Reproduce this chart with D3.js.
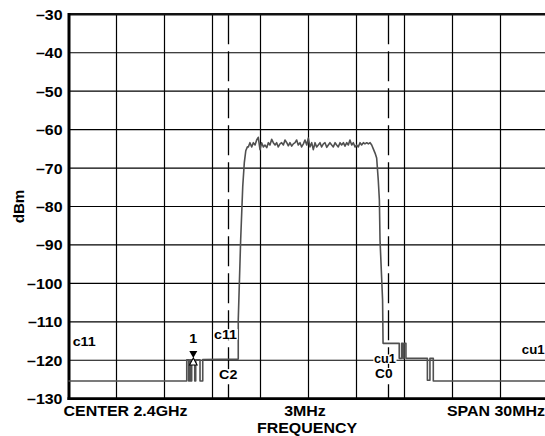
<!DOCTYPE html>
<html><head><meta charset="utf-8">
<script src="https://cdn.jsdelivr.net/npm/d3@7"></script>
<style>html,body{margin:0;padding:0;background:#fff;} svg{display:block;}</style>
</head><body><svg id="c" width="545" height="436"></svg>
<script>
// ---- data ----
const yTicks = [-30, -40, -50, -60, -70, -80, -90, -100, -110, -120, -130];
const yTickLabels = ["–30", "–40", "–50", "–60", "–70", "–80", "–90", "–100", "–110", "–120", "–130"];
const xGridMHz = [-12, -9, -6, -3, 0, 3, 6, 9, 12];
const channelEdgesMHz = [-5, 5];
const traceFreq = [
  -15, -7.61, -7.61, -7.49, -7.49, -7.42, -7.42, -7.36, -7.36, -7.30, -7.30, -7.11, -7.11, -7.05, -7.05,
  -6.78, -6.78, -6.61, -6.61, -4.39, -4.39, -4.24, -4.11, -4.01, -3.92, -3.82,
  -3.76, -3.66, -3.55, -3.45, -3.34, -3.24, -3.14, -3.03, -2.93, -2.82, -2.72, -2.61, -2.51, -2.41,
  -2.30, -2.20, -2.09, -1.99, -1.89, -1.78, -1.68, -1.57, -1.47, -1.36, -1.26, -1.16, -1.05, -0.95,
  -0.84, -0.74, -0.64, -0.53, -0.43, -0.32, -0.22, -0.11, -0.01, 0.09, 0.20, 0.30, 0.41, 0.51, 0.61,
  0.72, 0.82, 0.93, 1.03, 1.14, 1.24, 1.34, 1.45, 1.55, 1.66, 1.76, 1.86, 1.97, 2.07, 2.18, 2.28,
  2.39, 2.49, 2.59, 2.70, 2.80, 2.91, 3.01, 3.11, 3.22, 3.32, 3.43, 3.53, 3.64, 3.74, 3.85, 3.95,
  4.05, 4.16, 4.26, 4.36, 4.43, 4.47, 4.63, 4.66,
  5.67, 5.67, 5.82, 5.82, 5.90, 5.90, 5.97, 5.97, 6.09, 6.09, 7.43, 7.43, 7.59, 7.59, 7.80, 7.80, 15
];
const traceLevel = [
  -125.4, -125.4, -119.9, -119.9, -125.4, -125.4, -119.9, -119.9, -125.4, -125.4, -119.9, -119.9, -125.4, -125.4, -119.9,
  -119.9, -125.4, -125.4, -119.8, -119.7, -109.5, -88.7, -74.8, -68.5, -65.5, -64.5,
  -64.5, -63.4, -64.5, -63.4, -64.0, -62.7, -62.0, -65.2, -63.4, -64.5, -64.0, -64.7, -63.4, -64.0,
  -62.5, -63.4, -64.0, -63.4, -64.5, -63.7, -63.4, -64.0, -62.7, -63.4, -64.2, -63.4, -64.3, -63.7,
  -63.4, -62.7, -64.0, -63.4, -64.5, -63.7, -62.7, -64.0, -62.2, -64.5, -63.4, -65.2, -63.4, -64.5, -64.0,
  -63.4, -64.5, -63.7, -63.4, -64.6, -64.0, -63.4, -64.0, -64.5, -63.4, -64.0, -64.5, -63.4, -64.0, -63.4, -64.3,
  -63.4, -64.0, -62.7, -64.0, -63.4, -64.5, -64.0, -64.5, -63.4, -64.0, -63.4, -63.7, -63.4, -63.7, -63.4, -64.0,
  -65.0, -66.1, -67.4, -73.1, -78.3, -88.7, -104.3, -115.6,
  -115.6, -119.5, -119.5, -115.6, -115.6, -119.5, -119.5, -115.6, -115.6, -119.5, -119.5, -125.2, -125.2, -119.5, -119.5, -125.4, -125.4
];
const markerFreq = -7.2, markerLevel = -119.4;
const annotations = [
  { text: "c11", f: -14.74, d: -116.3, size: 13.5, bg: false },
  { text: "1",   f: -7.2,   d: -115.5, size: 13.5, bg: false, anchor: "middle" },
  { text: "c11", f: -5.91,  d: -114.5, size: 13.5, bg: true },
  { text: "C2",  f: -5.59,  d: -124.9, size: 13.5, bg: true },
  { text: "cu1", f: 4.09,   d: -120.8, size: 12,   bg: true },
  { text: "C0",  f: 4.16,   d: -124.5, size: 13,   bg: true },
  { text: "cu1", f: 13.33,  d: -118.4, size: 12.5, bg: false }
];
const bottomLabels = ["CENTER 2.4GHz", "3MHz", "SPAN 30MHz"];
const xTitle = "FREQUENCY", yTitle = "dBm";

// ---- layout ----
const W = 545, H = 436;
const pL = 68.5, pR = 548.5, pT = 14.3, pB = 398.7;
const FONT = "'Liberation Sans', Arial, Helvetica, sans-serif";
const SX = 1.14;

const svg = d3.select("#c");
const x = d3.scaleLinear().domain([-15, 15]).range([pL, pR]);
const y = d3.scaleLinear().domain([-130, -30]).range([pB, pT]);

function label(parent, text, px, py, anchor, size, sx, bg) {
  const g = parent.append("g").attr("transform", `translate(${px},${py}) scale(${sx},1)`);
  const rect = bg ? g.append("rect").attr("fill", "#fff") : null;
  const t = g.append("text").text(text)
    .attr("text-anchor", anchor || "start")
    .attr("font-family", FONT).attr("font-weight", "bold")
    .attr("font-size", size).attr("fill", "#000");
  if (rect) {
    const b = t.node().getBBox();
    rect.attr("x", b.x - 0.5).attr("y", -0.74 * size).attr("width", b.width + 1).attr("height", 0.74 * size + 0.5);
  }
  return g;
}

// grid
const grid = svg.append("g");
grid.selectAll("line.v").data(xGridMHz).join("line")
  .attr("x1", d => x(d)).attr("x2", d => x(d)).attr("y1", pT).attr("y2", pB)
  .attr("stroke", "#000").attr("stroke-width", 1.2);
grid.selectAll("line.h").data(yTicks.filter(v => v > -130 && v < -30)).join("line")
  .attr("x1", pL).attr("x2", pR).attr("y1", d => y(d)).attr("y2", d => y(d))
  .attr("stroke", "#000").attr("stroke-width", 1.2);

// channel edges (dashed)
svg.append("g").selectAll("line").data(channelEdgesMHz).join("line")
  .attr("x1", d => x(d)).attr("x2", d => x(d)).attr("y1", pT).attr("y2", pB)
  .attr("stroke", "#000").attr("stroke-width", 1.3).attr("stroke-dasharray", "30,7");

// frame
svg.append("line").attr("x1", pL).attr("x2", W + 5).attr("y1", y(-30)).attr("y2", y(-30))
  .attr("stroke", "#111").attr("stroke-width", 2.5);
svg.append("line").attr("x1", pL - 1).attr("x2", W + 5).attr("y1", y(-130)).attr("y2", y(-130))
  .attr("stroke", "#000").attr("stroke-width", 2.8);
svg.append("line").attr("x1", pL + 0.5).attr("x2", pL + 0.5).attr("y1", pT - 1.2).attr("y2", pB + 1.4)
  .attr("stroke", "#000").attr("stroke-width", 3);

// trace
const line = d3.line().x(i => x(traceFreq[i])).y(i => y(traceLevel[i]));
svg.append("path").attr("d", line(d3.range(traceFreq.length)))
  .attr("fill", "none").attr("stroke", "#505050").attr("stroke-width", 1.6).attr("stroke-linejoin", "round");

// annotations
const ann = svg.append("g");
annotations.forEach(a => label(ann, a.text, x(a.f), y(a.d), a.anchor || "start", a.size, 1.06, a.bg));

// marker
const mx = x(markerFreq), my = y(markerLevel);
svg.append("path").attr("d", `M${mx - 4},${my - 7} L${mx + 4},${my - 7} L${mx},${my} Z`).attr("fill", "#000");
svg.append("path").attr("d", `M${mx},${my} L${mx - 3.8},${my + 7} L${mx + 3.8},${my + 7} Z`)
  .attr("fill", "#fff").attr("stroke", "#000").attr("stroke-width", 1.1);

// y axis labels
const yAxis = d3.axisLeft(y).tickValues(yTicks).tickSize(0).tickPadding(0)
  .tickFormat((d, i) => yTickLabels[i]);
const ya = svg.append("g").attr("transform", `translate(${pL},0)`).call(yAxis);
ya.select(".domain").remove();
ya.selectAll(".tick text")
  .attr("x", 0).attr("dy", null).attr("dominant-baseline", null)
  .attr("font-family", FONT).attr("font-weight", "bold").attr("font-size", 14).attr("fill", "#000")
  .attr("text-anchor", "end")
  .attr("transform", `translate(-6,5) scale(${SX},1)`);

// bottom labels
label(svg, bottomLabels[0], 63.5, 416, "start", 14, SX, false);
label(svg, bottomLabels[1], 305, 416, "middle", 14, SX, false);
label(svg, bottomLabels[2], 545, 416, "end", 14, SX, false);
label(svg, xTitle, 307, 433, "middle", 14, SX, false);

// y title
const yt = svg.append("g").attr("transform", "translate(23.5,206.5) rotate(-90) scale(1.08,1)");
yt.append("text").text(yTitle).attr("text-anchor", "middle")
  .attr("font-family", FONT).attr("font-weight", "bold").attr("font-size", 14).attr("fill", "#000");
</script></body></html>
